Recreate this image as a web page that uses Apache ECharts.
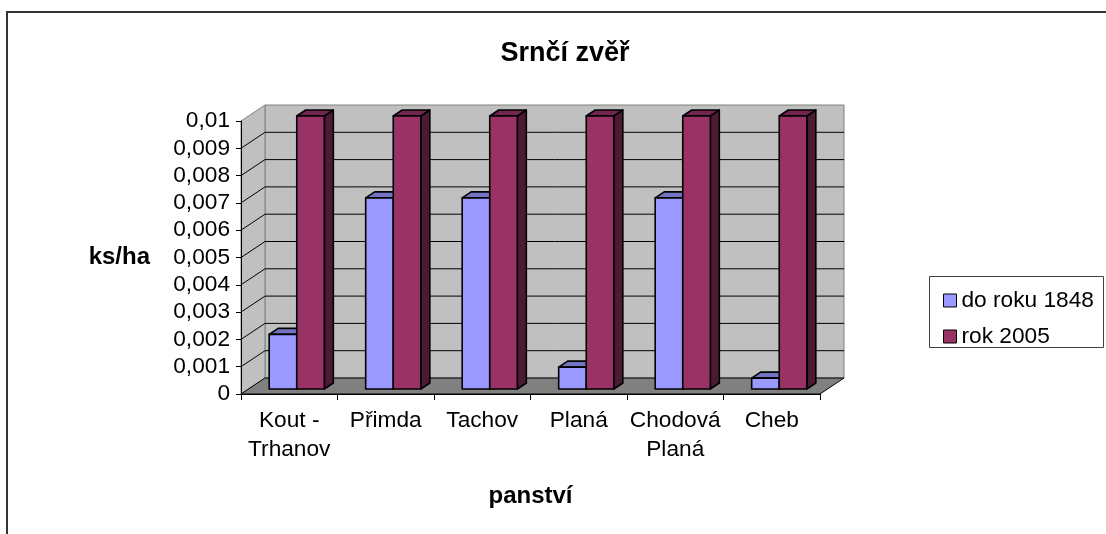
<!DOCTYPE html>
<html>
<head>
<meta charset="utf-8">
<script src="https://cdn.jsdelivr.net/npm/echarts@6/dist/echarts.min.js"></script>
<style>html,body{margin:0;padding:0;background:#fff}#c{width:1106px;height:534px}</style>
</head>
<body>
<div id="c"></div>
<script>
const categories = ['Kout -\nTrhanov', 'Přimda', 'Tachov', 'Planá', 'Chodová\nPlaná', 'Cheb'];
const seriesNames = ['do roku 1848', 'rok 2005'];
const do1848 = [0.002, 0.007, 0.007, 0.0008, 0.007, 0.0004];
const rok2005 = [0.01, 0.01, 0.01, 0.01, 0.01, 0.01];
const yTicks = [0.001, 0.002, 0.003, 0.004, 0.005, 0.006, 0.007, 0.008, 0.009];

const FONT = 'Liberation Sans, Arial, sans-serif';
const DX = 24, DY = -16;       // depth of the 3D box
const F0 = 0.3125, DEP = 0.375; // bar position / depth inside the box
const palette = [
  {front: '#9999ff', top: '#7373c4', side: '#4d4d88'},
  {front: '#993366', top: '#73264d', side: '#4d1a33'}
];

const chart = echarts.init(document.getElementById('c'), null, {renderer: 'canvas'});

function wallsRender(params, api) {
  const cs = params.coordSys;
  const x = cs.x, y = cs.y, w = cs.width, h = cs.height;
  const children = [];
  children.push({type: 'polygon', shape: {points: [[x + DX, y + DY], [x + w + DX, y + DY], [x + w + DX, y + h + DY], [x + DX, y + h + DY]]},
    style: {fill: '#c0c0c0', stroke: '#808080', lineWidth: 1}});
  children.push({type: 'polygon', shape: {points: [[x, y], [x + DX, y + DY], [x + DX, y + h + DY], [x, y + h]]},
    style: {fill: '#c0c0c0', stroke: '#808080', lineWidth: 1}});
  yTicks.forEach(function (v) {
    const yy = api.coord([0, v])[1];
    children.push({type: 'polyline', shape: {points: [[x, yy], [x + DX, yy + DY], [x + w + DX, yy + DY]]},
      style: {fill: null, stroke: '#000', lineWidth: 1}});
  });
  children.push({type: 'polygon', shape: {points: [[x, y + h], [x + DX, y + h + DY], [x + w + DX, y + h + DY], [x + w, y + h]]},
    style: {fill: '#808080', stroke: '#000', lineWidth: 1}});
  return {type: 'group', children: children};
}

function barRender(k) {
  const col = palette[k];
  return function (params, api) {
    const i = api.value(0), v = api.value(1);
    const band = api.size([1, 0])[0];
    const bw = band / 3.5;
    const c = api.coord([i, 0]);
    const t = api.coord([i, v]);
    const fx = DX * F0, fy = DY * F0, ddx = DX * DEP, ddy = DY * DEP;
    const x0 = c[0] - bw + k * bw + fx, x1 = x0 + bw;
    const yb = c[1] + fy, yt = t[1] + fy;
    const st = {stroke: '#000', lineWidth: 1.6, lineJoin: 'round'};
    return {type: 'group', children: [
      {type: 'polygon', shape: {points: [[x1, yt], [x1 + ddx, yt + ddy], [x1 + ddx, yb + ddy], [x1, yb]]}, style: Object.assign({fill: col.side}, st)},
      {type: 'polygon', shape: {points: [[x0, yt], [x1, yt], [x1 + ddx, yt + ddy], [x0 + ddx, yt + ddy]]}, style: Object.assign({fill: col.top}, st)},
      {type: 'rect', shape: {x: x0, y: yt, width: bw, height: yb - yt}, style: Object.assign({fill: col.front}, st)}
    ]};
  };
}

const option = {
  animation: false,
  backgroundColor: '#fff',
  textStyle: {fontFamily: FONT},
  title: {
    text: 'Srnčí zvěř', left: 560, top: 35, textAlign: 'center',
    textStyle: {fontFamily: FONT, fontSize: 27, fontWeight: 'bold', color: '#000'}
  },
  legend: {
    orient: 'vertical', left: 938, top: 284,
    data: seriesNames, icon: 'rect', itemWidth: 13, itemHeight: 13, itemGap: 13,
    itemStyle: {borderColor: '#000', borderWidth: 1},
    textStyle: {fontFamily: FONT, fontSize: 22.7, color: '#000', lineHeight: 22},
    selectedMode: false
  },
  graphic: [
    {type: 'rect', shape: {x: 7, y: 12, width: 1110, height: 540}, style: {fill: null, stroke: '#333', lineWidth: 2}, z: 100},
    {type: 'rect', shape: {x: 929.5, y: 276.5, width: 174, height: 71}, style: {fill: null, stroke: '#404040', lineWidth: 1}, z: 100}
  ],
  grid: {left: 241, right: 286, top: 121, bottom: 140},
  xAxis: {
    type: 'category', data: categories, z: 10,
    name: 'panství', nameLocation: 'middle', nameGap: 90,
    nameTextStyle: {fontFamily: FONT, fontSize: 24, fontWeight: 'bold', color: '#000'},
    axisLine: {lineStyle: {color: '#000', width: 1}},
    axisTick: {show: true, length: 6, lineStyle: {color: '#000'}},
    axisLabel: {interval: 0, margin: 12, fontFamily: FONT, fontSize: 22.7, lineHeight: 29, color: '#000'},
    splitLine: {show: false}
  },
  yAxis: {
    type: 'value', min: 0, max: 0.01, interval: 0.001, z: 10,
    name: 'ks/ha', nameLocation: 'middle', nameRotate: 0, nameGap: 91,
    nameTextStyle: {fontFamily: FONT, fontSize: 24, fontWeight: 'bold', color: '#000', align: 'right'},
    axisLine: {show: true, lineStyle: {color: '#000', width: 1}},
    axisTick: {show: true, length: 5, lineStyle: {color: '#000'}},
    axisLabel: {margin: 11, fontFamily: FONT, fontSize: 22.7, color: '#000',
      formatter: function (v) { return String(+v.toFixed(4)).replace('.', ','); }},
    splitLine: {show: false}
  },
  series: [
    {type: 'custom', name: 'walls', renderItem: wallsRender, data: [[0, 0]], clip: false, z: 1, silent: true},
    {type: 'custom', name: seriesNames[0], renderItem: barRender(0), itemStyle: {color: palette[0].front},
      data: do1848.map(function (v, i) { return [i, v]; }), clip: false, z: 2},
    {type: 'custom', name: seriesNames[1], renderItem: barRender(1), itemStyle: {color: palette[1].front},
      data: rok2005.map(function (v, i) { return [i, v]; }), clip: false, z: 3}
  ]
};
chart.setOption(option);
</script>
</body>
</html>
